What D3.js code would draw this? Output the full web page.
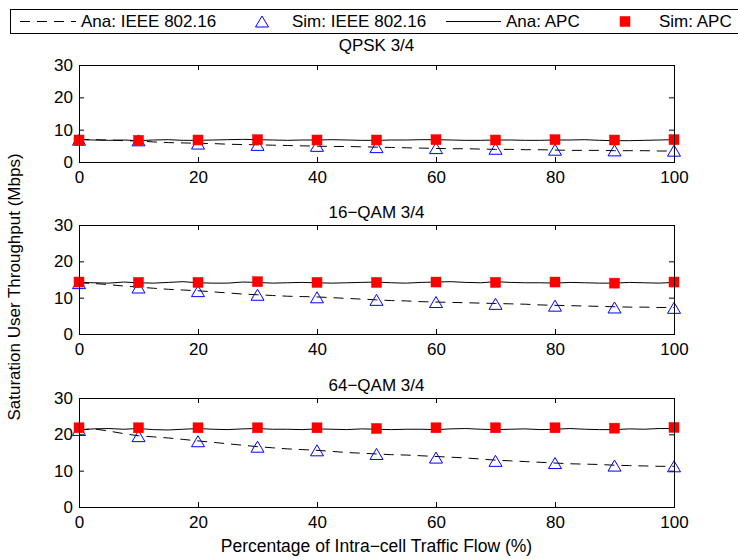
<!DOCTYPE html>
<html>
<head>
<meta charset="utf-8">
<script src="https://cdn.jsdelivr.net/npm/d3@7"></script>
<style>
  html, body { margin: 0; padding: 0; background: #fff; }
  svg { display: block; font-family: "Liberation Sans", Arial, Helvetica, sans-serif; }
  .tick line { stroke: #000; }
  .tick text { font-size: 17px; fill: #000; }
</style>
</head>
<body>
<svg id="chart" width="738" height="560"></svg>
<script>
// Traffic share (%) at which the simulations were run
const simX = [0, 10, 20, 30, 40, 50, 60, 70, 80, 90, 100];
// Finer grid used by the analytical curves
const anaX = [0, 2.5, 5, 7.5, 10, 12.5, 15, 17.5, 20, 22.5, 25, 27.5, 30, 32.5, 35, 37.5, 40,
  42.5, 45, 47.5, 50, 52.5, 55, 57.5, 60, 62.5, 65, 67.5, 70, 72.5, 75, 77.5, 80, 82.5, 85,
  87.5, 90, 92.5, 95, 97.5, 100];

const panelTitles = ["QPSK 3/4", "16\u2212QAM 3/4", "64\u2212QAM 3/4"];
const xTicks = [0, 20, 40, 60, 80, 100];
const yTicks = [0, 10, 20, 30];
const legendLabels = ["Ana: IEEE 802.16", "Sim: IEEE 802.16", "Ana: APC", "Sim: APC"];

// QPSK 3/4
const qpskAnaIeee = [7.0, 6.9, 6.8, 6.6, 6.5, 6.2, 6.0, 5.9, 5.8, 5.7, 5.5, 5.4, 5.3, 5.2, 5.1,
  5.0, 4.9, 4.8, 4.8, 4.7, 4.6, 4.5, 4.4, 4.3, 4.2, 4.1, 4.1, 4.0, 3.9, 3.9, 3.8, 3.8, 3.7,
  3.6, 3.6, 3.6, 3.5, 3.5, 3.5, 3.4, 3.4];
const qpskSimIeee = [6.9, 6.7, 5.7, 5.3, 5.0, 4.6, 4.3, 4.1, 3.8, 3.6, 3.5];
const qpskAnaApc = [6.9, 6.8, 6.7, 6.8, 6.6, 6.8, 6.9, 6.7, 6.7, 6.8, 6.9, 7.0, 6.9, 6.8, 6.7,
  6.8, 6.8, 6.9, 6.8, 6.7, 6.7, 6.8, 6.8, 6.9, 6.9, 6.8, 6.7, 6.7, 6.8, 6.8, 6.7, 6.7, 6.8,
  6.8, 6.9, 6.7, 6.6, 6.6, 6.7, 6.8, 6.9];
const qpskSimApc = [6.8, 6.7, 6.8, 6.9, 6.8, 6.8, 6.9, 6.8, 6.9, 6.8, 6.9];

// 16-QAM 3/4
const qam16AnaIeee = [14.1, 13.9, 13.6, 13.2, 12.9, 12.6, 12.3, 12.1, 11.9, 11.6, 11.3, 11.0,
  10.8, 10.6, 10.4, 10.3, 10.2, 10.0, 9.8, 9.6, 9.4, 9.2, 9.1, 8.9, 8.8, 8.7, 8.6, 8.5, 8.4,
  8.3, 8.2, 8.0, 7.9, 7.8, 7.7, 7.6, 7.5, 7.4, 7.4, 7.3, 7.3];
const qam16SimIeee = [14.0, 12.8, 11.8, 10.8, 10.1, 9.4, 8.8, 8.3, 7.8, 7.3, 7.2];
const qam16AnaApc = [14.2, 14.1, 14.0, 14.3, 14.1, 14.0, 14.2, 14.4, 14.1, 14.0, 14.0, 14.3,
  14.2, 14.0, 14.1, 14.2, 14.1, 14.0, 14.1, 14.2, 14.3, 14.1, 14.0, 14.2, 14.3, 14.4, 14.2,
  14.1, 14.4, 14.2, 14.1, 14.1, 14.0, 14.2, 14.1, 14.0, 14.0, 14.2, 14.1, 14.0, 14.2];
const qam16SimApc = [14.3, 14.2, 14.2, 14.4, 14.2, 14.2, 14.3, 14.2, 14.3, 14.0, 14.3];

// 64-QAM 3/4
const qam64AnaIeee = [21.2, 21.5, 20.9, 20.2, 19.6, 19.3, 19.0, 18.6, 18.2, 17.8, 17.4, 17.0,
  16.6, 16.3, 16.0, 15.8, 15.6, 15.3, 15.0, 14.8, 14.6, 14.4, 14.3, 14.1, 13.9, 13.7, 13.5,
  13.2, 12.9, 12.7, 12.5, 12.3, 12.1, 11.9, 11.8, 11.7, 11.5, 11.4, 11.3, 11.2, 11.2];
const qam64SimIeee = [21.2, 19.5, 18.1, 16.6, 15.6, 14.6, 13.6, 12.7, 12.1, 11.4, 11.2];
const qam64AnaApc = [21.3, 21.5, 21.6, 21.4, 21.6, 21.3, 21.2, 21.4, 21.6, 21.4, 21.3, 21.5,
  21.6, 21.4, 21.4, 21.3, 21.5, 21.4, 21.3, 21.5, 21.4, 21.3, 21.4, 21.4, 21.3, 21.5, 21.6,
  21.4, 21.3, 21.4, 21.5, 21.3, 21.4, 21.6, 21.4, 21.3, 21.3, 21.5, 21.4, 21.6, 21.6];
const qam64SimApc = [21.8, 21.8, 21.8, 21.8, 21.8, 21.6, 21.8, 21.8, 21.8, 21.7, 21.9];

const panels = [
  { title: panelTitles[0], top: 65, bottom: 162, titleGap: 14, anaIeee: qpskAnaIeee, simIeee: qpskSimIeee, anaApc: qpskAnaApc, simApc: qpskSimApc },
  { title: panelTitles[1], top: 225, bottom: 334, titleGap: 7, anaIeee: qam16AnaIeee, simIeee: qam16SimIeee, anaApc: qam16AnaApc, simApc: qam16SimApc },
  { title: panelTitles[2], top: 398, bottom: 507, titleGap: 7, anaIeee: qam64AnaIeee, simIeee: qam64SimIeee, anaApc: qam64AnaApc, simApc: qam64SimApc }
];

const svg = d3.select("#chart");
const left = 79, right = 674;
const x = d3.scaleLinear().domain([0, 100]).range([left, right]);
const TICK = 5;
const DASH = "10,7";

// Marker helpers
const triPath = (w, h) => `M0,${-h / 2}L${w / 2},${h / 2}L${-w / 2},${h / 2}Z`;
function drawTriangle(g, cx, cy) {
  g.append("path").attr("d", triPath(13, 11))
    .attr("transform", `translate(${cx},${cy})`)
    .attr("fill", "none").attr("stroke", "#0000ff").attr("stroke-width", 1);
}
function drawSquare(g, cx, cy) {
  g.append("rect").attr("x", cx - 5).attr("y", cy - 5).attr("width", 10).attr("height", 10)
    .attr("fill", "#ff0000").attr("stroke", "#ff0000").attr("stroke-width", 0.5);
}

panels.forEach(p => {
  const y = d3.scaleLinear().domain([0, 30]).range([p.bottom, p.top]);
  const g = svg.append("g");

  // axes: ticks point inward on all four sides
  const bottomAxis = g.append("g").attr("transform", `translate(0,${p.bottom})`)
    .call(d3.axisBottom(x).tickValues(xTicks).tickSizeInner(-TICK).tickSizeOuter(0).tickPadding(9));
  const topAxis = g.append("g").attr("transform", `translate(0,${p.top})`)
    .call(d3.axisTop(x).tickValues(xTicks).tickSizeInner(-TICK).tickSizeOuter(0).tickFormat(""));
  const leftAxis = g.append("g").attr("transform", `translate(${left},0)`)
    .call(d3.axisLeft(y).tickValues(yTicks).tickSizeInner(-TICK).tickSizeOuter(0).tickPadding(6));
  const rightAxis = g.append("g").attr("transform", `translate(${right},0)`)
    .call(d3.axisRight(y).tickValues(yTicks).tickSizeInner(-TICK).tickSizeOuter(0).tickFormat(""));
  [bottomAxis, topAxis, leftAxis, rightAxis].forEach(a => {
    a.select(".domain").remove();
    a.attr("font-family", null).attr("font-size", null);
  });

  // analytical curves
  const line = d3.line().x((d, i) => x(anaX[i])).y(d => y(d));
  g.append("path").datum(p.anaApc).attr("d", line)
    .attr("fill", "none").attr("stroke", "#000").attr("stroke-width", 1);
  g.append("path").datum(p.anaIeee).attr("d", line)
    .attr("fill", "none").attr("stroke", "#000").attr("stroke-width", 1)
    .attr("stroke-dasharray", DASH);

  // simulation markers
  p.simIeee.forEach((v, i) => drawTriangle(g, x(simX[i]), y(v)));
  p.simApc.forEach((v, i) => drawSquare(g, x(simX[i]), y(v)));

  // plot frame
  g.append("rect").attr("x", left + 0.5).attr("y", p.top + 0.5)
    .attr("width", right - left).attr("height", p.bottom - p.top)
    .attr("fill", "none").attr("stroke", "#000").attr("stroke-width", 1);

  // panel title
  g.append("text").attr("x", (left + right) / 2).attr("y", p.top - p.titleGap)
    .attr("text-anchor", "middle").attr("font-size", 17).text(p.title);
});

// axis titles
svg.append("text").attr("x", (left + right) / 2).attr("y", 552)
  .attr("text-anchor", "middle").attr("font-size", 17.5)
  .text("Percentage of Intra\u2212cell Traffic Flow (%)");
svg.append("text").attr("transform", "translate(20,287) rotate(-90)")
  .attr("text-anchor", "middle").attr("font-size", 17)
  .text("Saturation User Throughput (Mbps)");

// legend across the top
const lg = svg.append("g");
lg.append("rect").attr("x", 10.5).attr("y", 9.5).attr("width", 740).attr("height", 24)
  .attr("fill", "#fff").attr("stroke", "#000").attr("stroke-width", 1);
const ly = 21.5;
lg.append("line").attr("x1", 20).attr("x2", 76).attr("y1", ly).attr("y2", ly)
  .attr("stroke", "#000").attr("stroke-dasharray", DASH);
drawTriangle(lg, 262, ly);
lg.append("line").attr("x1", 446).attr("x2", 501).attr("y1", ly).attr("y2", ly)
  .attr("stroke", "#000");
drawSquare(lg, 625, ly);
const legendTextX = [81, 292, 506, 659];
legendLabels.forEach((t, i) => {
  lg.append("text").attr("x", legendTextX[i]).attr("y", ly).attr("dy", "0.35em")
    .attr("font-size", 17).text(t);
});
</script>
</body>
</html>
